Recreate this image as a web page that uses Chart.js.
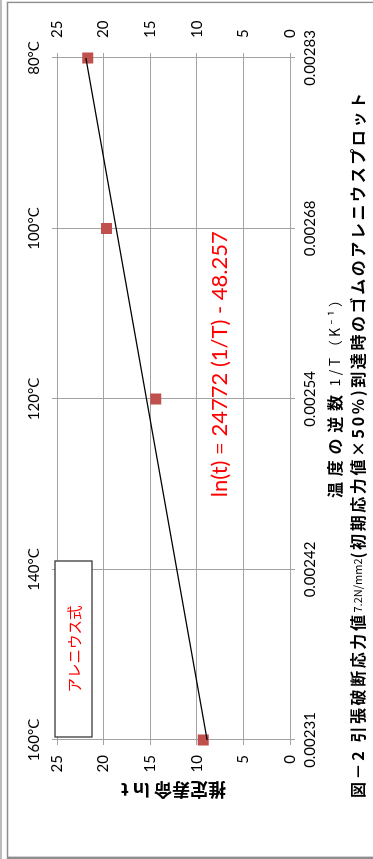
<!DOCTYPE html>
<html><head><meta charset="utf-8">
<script src="https://cdn.jsdelivr.net/npm/chart.js@4.4.1/dist/chart.umd.min.js"></script>
<style>
html,body{margin:0;padding:0;width:373px;height:859px;overflow:hidden;background:#fff;}
#wrap{position:absolute;left:0;top:0;width:859px;height:373px;transform-origin:0 0;transform:translate(0px,859px) rotate(-90deg);}
canvas{display:block;}
</style></head><body>
<div id="wrap"><canvas id="c" width="859" height="373"></canvas></div>
<script>
// ---- data ----
const invTLabels = ['0.00231', '0.00242', '0.00254', '0.00268', '0.00283'];
const tempLabels = ['160°C', '140°C', '120°C', '100°C', '80°C'];
const lnLife = [9.3, null, 14.4, 19.7, 21.7];
const trendLine = [8.9, null, null, null, 21.9];
const yMin = 0, yMax = 25, yStep = 5;
const yTitle = '推定寿命 ln t';
const xTitleBold = '温度の逆数';
const xTitleUnit = ' 1/T（K⁻¹）';
const equationText = 'ln(t) = 24772 (1/T) - 48.257';
const boxText = 'アレニウス式';
const captionParts = ['図－2 引張破断応力値', '7.2N/mm2', '(初期応力値×50%)到達時のゴムのアレニウスプロット'];

// ---- style ----
const JP = '"Noto Sans CJK JP", "Noto Sans", sans-serif';
const LAT = 'Lato, "Noto Sans", sans-serif';
const GRID = '#a3a3a3';
const MARK = '#c0504d';

function spaced(ctx, segs, x0, x1, y) {
  ctx.letterSpacing = '0px';
  let w = 0, n = 0;
  for (const s of segs) {
    ctx.font = s.font; s.w = ctx.measureText(s.text).width; s.n = [...s.text].length; w += s.w;
    if (!s.fixed) n += s.n;
  }
  const ls = Math.max(0, (x1 - x0 - w) / Math.max(1, n - 1));
  let x = x0;
  ctx.textAlign = 'left'; ctx.textBaseline = 'middle';
  for (const s of segs) {
    const l = s.fixed ? 0 : ls;
    ctx.font = s.font; ctx.letterSpacing = l + 'px'; ctx.fillStyle = s.color || '#000';
    ctx.fillText(s.text, x, y);
    x += s.w + l * s.n;
  }
  ctx.letterSpacing = '0px';
}

const deco = {
  id: 'deco',
  beforeDraw(chart) {
    const {ctx, width, height} = chart;
    ctx.save();
    ctx.fillStyle = '#fff'; ctx.fillRect(0, 0, width, height);
    ctx.strokeStyle = '#bcbcbc'; ctx.lineWidth = 2;
    ctx.beginPath(); ctx.moveTo(0, 1); ctx.lineTo(width, 1); ctx.stroke();
    ctx.strokeStyle = '#8e8e8e';
    ctx.lineWidth = 1.4;
    ctx.beginPath(); ctx.moveTo(1.2, height + 5); ctx.lineTo(1.2, 7.5); ctx.lineTo(856.6, 7.5); ctx.lineTo(856.6, height + 5); ctx.stroke();
    ctx.lineWidth = 2.4;
    ctx.beginPath(); ctx.moveTo(1.2, 7); ctx.lineTo(1.2, height + 5); ctx.stroke();
    ctx.restore();
  },
  afterDraw(chart) {
    const {ctx, chartArea: a} = chart;
    ctx.save();
    // text box
    const bx = a.left + 3, by = a.top - 2, bw = 176, bh = 37;
    ctx.fillStyle = '#fff'; ctx.fillRect(bx, by, bw, bh);
    ctx.strokeStyle = '#3a3a3a'; ctx.lineWidth = 1.3; ctx.strokeRect(bx, by, bw, bh);
    ctx.fillStyle = '#ff0000'; ctx.font = '14.5px ' + JP; ctx.textAlign = 'center'; ctx.textBaseline = 'middle';
    ctx.fillText(boxText, bx + bw / 2, by + bh / 2 + 1);
    // equation
    ctx.font = '22px ' + LAT;
    ctx.fillText(equationText, a.left + (a.right - a.left) * 0.551, a.top + (a.bottom - a.top) * 0.70);
    // x-axis title
    const cx = (a.left + a.right) / 2;
    spaced(ctx, [{text: xTitleBold, font: 'bold 16px ' + JP}], cx - 99, cx + 4, a.bottom + 45);
    spaced(ctx, [{text: xTitleUnit, font: '14px ' + JP}], cx + 6, cx + 106, a.bottom + 45);
    // caption
    spaced(ctx, [
      {text: captionParts[0], font: 'bold 16px ' + JP},
      {text: captionParts[1], font: '11px ' + JP, fixed: true},
      {text: captionParts[2], font: 'bold 16px ' + JP}
    ], 61, 766, a.bottom + 68);
    ctx.restore();
  }
};

function build() {
  const tickFont = {family: LAT, size: 15};
  new Chart(document.getElementById('c'), {
    type: 'line',
    data: {
      labels: invTLabels,
      datasets: [
        {label: 'trend', data: trendLine, spanGaps: true, borderColor: '#000', borderWidth: 1.2, pointRadius: 0, fill: false},
        {label: 'ln t', data: lnLife, showLine: false, pointStyle: 'rect', pointRadius: 7.8, pointBackgroundColor: MARK, pointBorderColor: MARK, pointBorderWidth: 0}
      ]
    },
    options: {
      responsive: false, animation: false, devicePixelRatio: 1,
      layout: {padding: 0},
      plugins: {legend: {display: false}, tooltip: {enabled: false}, title: {display: false}},
      scales: {
        x: {type: 'category', position: 'bottom', offset: false,
          grid: {color: GRID, tickLength: 5}, border: {color: GRID},
          ticks: {font: tickFont, color: '#000', padding: 6, maxRotation: 0, autoSkip: false},
          afterFit(s) { s.height = 83; }},
        x2: {type: 'category', labels: tempLabels, position: 'top', offset: false,
          grid: {color: GRID, tickLength: 5, drawOnChartArea: false}, border: {color: GRID},
          ticks: {font: tickFont, color: '#000', padding: 9, maxRotation: 0, autoSkip: false},
          afterFit(s) { s.height = 57; }},
        y: {position: 'left', min: yMin, max: yMax,
          grid: {color: GRID, tickLength: 5}, border: {color: GRID},
          ticks: {stepSize: yStep, font: tickFont, color: '#000', padding: 10},
          title: {display: true, text: yTitle, color: '#000', font: {family: JP, size: 18, weight: 'bold'}, padding: {top: 58, bottom: 0}},
          afterFit(s) { s.width = 119; }},
        y2: {position: 'right', min: yMin, max: yMax,
          grid: {color: GRID, tickLength: 5, drawOnChartArea: false}, border: {color: GRID},
          ticks: {stepSize: yStep, font: tickFont, color: '#000', padding: 15},
          afterFit(s) { s.width = 58; }}
      }
    },
    plugins: [deco]
  });
}

let built = false;
function go() { if (!built) { built = true; build(); } }
Promise.all([
  document.fonts.load('15px Lato'), document.fonts.load('22px Lato'),
  document.fonts.load('bold 16px "Noto Sans CJK JP"'), document.fonts.load('14px "Noto Sans CJK JP"')
]).then(go, go);
setTimeout(go, 300);
</script></body></html>
